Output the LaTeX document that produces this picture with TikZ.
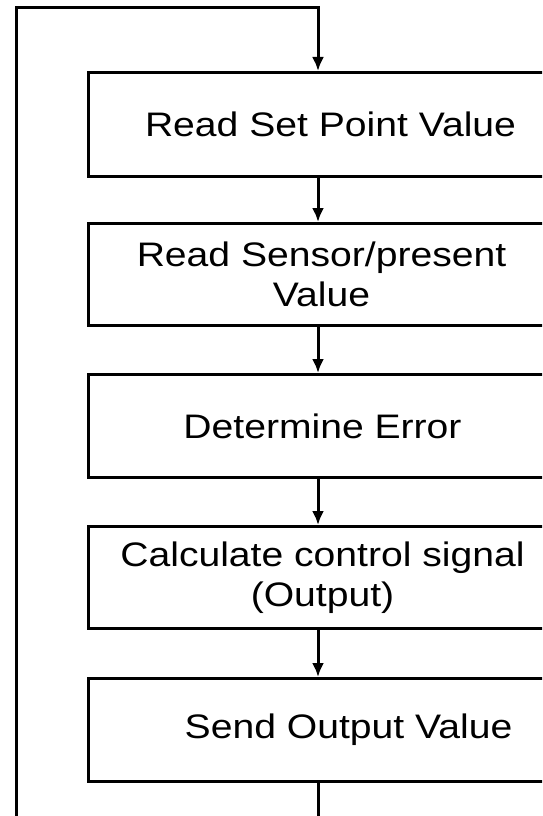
\documentclass[tikz,border=0pt]{standalone}
\usepackage{fontspec}
\newfontfamily\pixfont[FakeStretch=1.15]{Liberation Sans}
\usetikzlibrary{arrows.meta}
\tikzset{
  stepbox/.style={draw, line width=3pt, rectangle, anchor=north west, inner sep=0pt,
    align=center, font=\pixfont\fontsize{34}{40}\selectfont},
  flow/.style={line width=3pt, -{Latex[length=14pt,width=12pt]}}
}
\begin{document}
\begin{tikzpicture}[x=1pt,y=-1pt]
        \useasboundingbox (0,0) rectangle (542,816);
        \clip (0,0) rectangle (542,816);

            % boxes: left edge fixed, width chosen so the text sits where it should
            \node[stepbox, minimum width=484pt, minimum height=104pt] (b1) at (87,71) {Read Set Point Value};
            \node[stepbox, minimum width=466pt, minimum height=102pt] (b2) at (87,222) {Read Sensor/present\\Value};
            \node[stepbox, minimum width=468pt, minimum height=103pt] (b3) at (87,373) {Determine Error};
            \node[stepbox, minimum width=468pt, minimum height=102pt] (b4) at (87,525) {Calculate control signal\\(Output)};
            \node[stepbox, minimum width=520pt, minimum height=103pt] (b5) at (87,677) {Send Output Value};

            \coordinate (mid) at (318,0);
            \coordinate (loopbot) at (16,816);
            \coordinate (looptop) at (16,8);
            \coordinate (stubend) at (318,816);

            \foreach \a/\b in {b1/b2,b2/b3,b3/b4,b4/b5}{
              \draw[flow] (\a.south -| mid) -- (\b.north -| mid);
            }

            \draw[flow] (loopbot) -- (looptop) -| (b1.north -| mid);
            \draw[line width=3pt] (b5.south -| mid) -- (stubend);

        \end{tikzpicture}
\end{document}
